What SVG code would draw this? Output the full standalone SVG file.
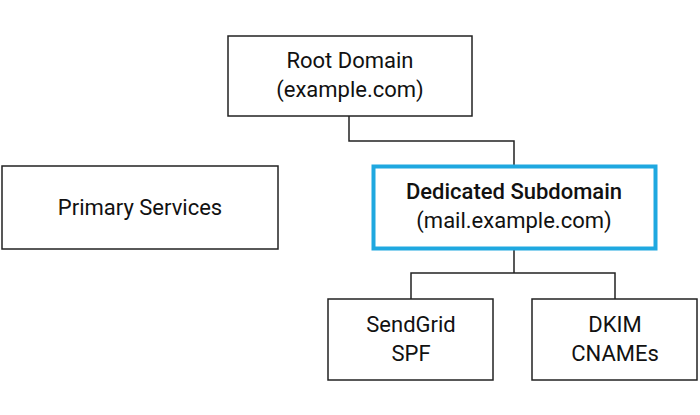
<svg xmlns="http://www.w3.org/2000/svg" width="700" height="415" viewBox="0 0 700 415">
<style>
.b{fill:#fff;stroke:#222;stroke-width:1.5}
.t{font-family:Roboto,"Liberation Sans",sans-serif;font-size:22px;fill:#111;text-anchor:middle}
.c{fill:none;stroke:#222;stroke-width:1.5}
</style>
<rect width="700" height="415" fill="#fff"/>
<g id="connectors">
<path class="c" d="M349 116V141H514V165"/>
<path class="c" d="M514 250V273H411V299M514 273H615V299"/>
</g>
<g id="root"><rect class="b" x="228" y="36" width="244" height="80"/>
<text class="t" x="350" y="68">Root Domain</text><text class="t" x="350" y="97">(example.com)</text></g>
<g id="primary"><rect class="b" x="2" y="166" width="276" height="83"/>
<text class="t" x="140" y="215">Primary Services</text></g>
<g id="subdomain"><rect x="373.5" y="166.5" width="282" height="82" fill="#fff" stroke="#1fa8e0" stroke-width="4"/>
<text class="t" x="514" y="199" font-weight="500">Dedicated Subdomain</text><text class="t" x="514" y="228">(mail.example.com)</text></g>
<g id="sendgrid"><rect class="b" x="328" y="299" width="165" height="81"/>
<text class="t" x="411" y="332">SendGrid</text><text class="t" x="411" y="361">SPF</text></g>
<g id="dkim"><rect class="b" x="532" y="299" width="165" height="81"/>
<text class="t" x="615" y="332">DKIM</text><text class="t" x="615" y="361">CNAMEs</text></g>
</svg>
